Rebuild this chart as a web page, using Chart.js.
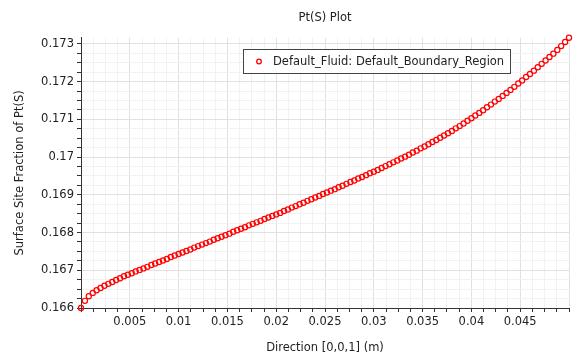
<!DOCTYPE html>
<html><head><meta charset="utf-8">
<script src="https://cdn.jsdelivr.net/npm/chart.js@4.4.0/dist/chart.umd.min.js"></script>
<style>html,body{margin:0;padding:0;background:#fff;}canvas{display:block;}</style>
</head><body>
<canvas id="c" width="585" height="362"></canvas>
<script>
const chartTitle = 'Pt(S) Plot';
const seriesLabel = 'Default_Fluid: Default_Boundary_Region';
const xAxisTitle = 'Direction [0,0,1] (m)';
const yAxisTitle = 'Surface Site Fraction of Pt(S)';

const xPositions = [
0,0.0004,0.0008,0.0012,0.0016,0.002,0.0024,0.0028,0.0032,0.0036,
0.004,0.0044,0.0048,0.0052,0.0056,0.006,0.0064,0.0068,0.0072,0.0076,
0.008,0.0084,0.0088,0.0092,0.0096,0.01,0.0104,0.0108,0.0112,0.0116,
0.012,0.0124,0.0128,0.0132,0.0136,0.014,0.0144,0.0148,0.0152,0.0156,
0.016,0.0164,0.0168,0.0172,0.0176,0.018,0.0184,0.0188,0.0192,0.0196,
0.02,0.0204,0.0208,0.0212,0.0216,0.022,0.0224,0.0228,0.0232,0.0236,
0.024,0.0244,0.0248,0.0252,0.0256,0.026,0.0264,0.0268,0.0272,0.0276,
0.028,0.0284,0.0288,0.0292,0.0296,0.03,0.0304,0.0308,0.0312,0.0316,
0.032,0.0324,0.0328,0.0332,0.0336,0.034,0.0344,0.0348,0.0352,0.0356,
0.036,0.0364,0.0368,0.0372,0.0376,0.038,0.0384,0.0388,0.0392,0.0396,
0.04,0.0404,0.0408,0.0412,0.0416,0.042,0.0424,0.0428,0.0432,0.0436,
0.044,0.0444,0.0448,0.0452,0.0456,0.046,0.0464,0.0468,0.0472,0.0476,
0.048,0.0484,0.0488,0.0492,0.0496,0.05
];

const ptSValues = [
0.16600,0.16619,0.16631,0.16640,0.16647,0.16653,0.16659,0.16664,0.16669,0.16674,
0.16679,0.16684,0.16688,0.16692,0.16697,0.16701,0.16705,0.16709,0.16714,0.16718,
0.16722,0.16726,0.16730,0.16735,0.16739,0.16743,0.16747,0.16751,0.16755,0.16760,
0.16764,0.16768,0.16772,0.16776,0.16781,0.16785,0.16789,0.16793,0.16797,0.16802,
0.16806,0.16810,0.16814,0.16819,0.16823,0.16827,0.16831,0.16836,0.16840,0.16844,
0.16848,0.16852,0.16857,0.16861,0.16866,0.16870,0.16875,0.16879,0.16884,0.16888,
0.16893,0.16897,0.16902,0.16906,0.16911,0.16915,0.16920,0.16924,0.16929,0.16934,
0.16938,0.16943,0.16947,0.16952,0.16957,0.16961,0.16966,0.16971,0.16976,0.16981,
0.16986,0.16991,0.16996,0.17001,0.17006,0.17012,0.17017,0.17023,0.17028,0.17034,
0.17040,0.17045,0.17051,0.17057,0.17063,0.17069,0.17076,0.17082,0.17089,0.17096,
0.17103,0.17110,0.17117,0.17124,0.17132,0.17139,0.17147,0.17154,0.17162,0.17170,
0.17178,0.17186,0.17195,0.17203,0.17212,0.17220,0.17229,0.17238,0.17247,0.17256,
0.17265,0.17274,0.17284,0.17294,0.17305,0.17316
];

const xRange = [0, 0.05];
const yRange = [0.166, 0.17316];
const xMinorStep = 0.00125, xMinorPerMajor = 4;
const yMinorStep = 0.00025, yMinorPerMajor = 4;

const FONT = 'DejaVu Sans';
const TEXT = '#222';
const MAJOR_GRID = '#e1e1e1';
const MINOR_GRID = '#f2f2f2';

const points = xPositions.map((x, i) => ({x: x, y: ptSValues[i]}));

function fmt(v) { return String(+v.toFixed(3)); }

const boxLegend = {
  id: 'boxLegend',
  afterDraw(chart) {
    const ctx = chart.ctx;
    const ds = chart.data.datasets[0];
    const a = chart.chartArea;
    ctx.save();
    ctx.font = '11.5px "' + FONT + '"';
    const tw = ctx.measureText(ds.label).width;
    const left = Math.round(a.left + 162) + 0.5;
    const top = Math.round(a.top + 11) + 0.5;
    const w = Math.round(30 + tw + 6);
    const h = 24;
    ctx.fillStyle = '#fff';
    ctx.fillRect(left, top, w, h);
    ctx.strokeStyle = '#444';
    ctx.lineWidth = 1;
    ctx.strokeRect(left, top, w, h);
    ctx.beginPath();
    ctx.arc(left + 15.5, top + 12, 2.3, 0, Math.PI * 2);
    ctx.strokeStyle = ds.pointBorderColor;
    ctx.lineWidth = 1.3;
    ctx.stroke();
    ctx.fillStyle = TEXT;
    ctx.textBaseline = 'middle';
    ctx.textAlign = 'left';
    ctx.fillText(ds.label, left + 29.5, top + 12.5);
    ctx.restore();
  }
};

new Chart(document.getElementById('c'), {
  type: 'scatter',
  data: {
    datasets: [{
      label: seriesLabel,
      data: points,
      showLine: false,
      pointStyle: 'circle',
      pointRadius: 2.6,
      pointHoverRadius: 2.6,
      pointBorderWidth: 1.2,
      pointBorderColor: '#ff0000',
      pointBackgroundColor: 'rgba(0,0,0,0)',
      clip: false
    }]
  },
  options: {
    responsive: false,
    animation: false,
    devicePixelRatio: 1,
    events: [],
    layout: {padding: {left: 0, right: 16, top: 0, bottom: 0}},
    plugins: {
      legend: {display: false},
      tooltip: {enabled: false},
      title: {
        display: true, text: chartTitle, fullSize: false, color: TEXT,
        font: {family: FONT, size: 11.5, weight: 'normal'},
        padding: {top: 11, bottom: 13}
      }
    },
    scales: {
      x: {
        type: 'linear', position: 'bottom', min: xRange[0], max: xRange[1],
        afterFit(s) { s.height = 54; },
        border: {display: true, color: '#333', width: 1},
        grid: {
          color: (c) => {
            const k = Math.round(c.tick.value / xMinorStep);
            return k % xMinorPerMajor === 0 ? MAJOR_GRID : MINOR_GRID;
          },
          tickColor: '#333', tickLength: 4, lineWidth: 1
        },
        ticks: {
          stepSize: xMinorStep, includeBounds: false, autoSkip: false,
          maxRotation: 0, minRotation: 0, padding: 3, color: TEXT,
          font: {family: FONT, size: 11.5},
          callback: (v) => {
            const k = Math.round(v / xMinorStep);
            const last = Math.round(xRange[1] / xMinorStep);
            if (k % xMinorPerMajor !== 0 || k === 0 || k === last) return '';
            return fmt(v);
          }
        },
        title: {display: true, text: xAxisTitle, color: TEXT,
          font: {family: FONT, size: 11.5}, padding: {top: 0, bottom: 7}}
      },
      y: {
        type: 'linear', position: 'left', min: yRange[0], max: yRange[1],
        afterFit(s) { s.width = 81; },
        border: {display: true, color: '#333', width: 1},
        grid: {
          color: (c) => {
            const k = Math.round(c.tick.value / yMinorStep);
            return k % yMinorPerMajor === 0 ? MAJOR_GRID : MINOR_GRID;
          },
          tickColor: '#333', tickLength: 4, lineWidth: 1
        },
        ticks: {
          stepSize: yMinorStep, includeBounds: false, autoSkip: false,
          padding: 3, color: TEXT,
          font: {family: FONT, size: 11.5},
          callback: (v) => {
            const k = Math.round(v / yMinorStep);
            if (k % yMinorPerMajor !== 0) return '';
            return fmt(v);
          }
        },
        title: {display: true, text: yAxisTitle, color: TEXT,
          font: {family: FONT, size: 11.5}, padding: {top: 13, bottom: 0}}
      }
    }
  },
  plugins: [boxLegend]
});
</script>
</body></html>
